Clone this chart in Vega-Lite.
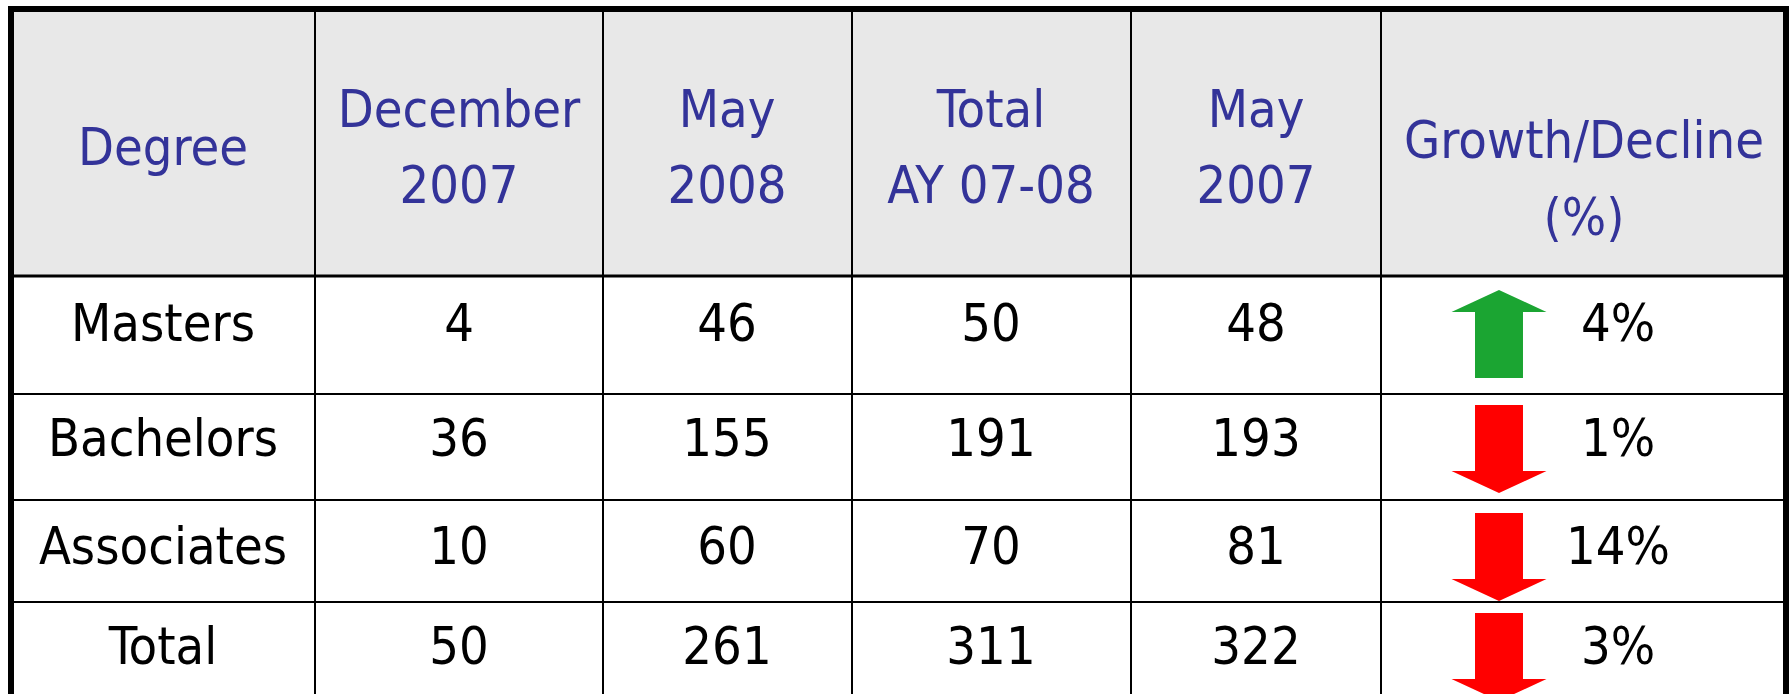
{
  "$schema": "https://vega.github.io/schema/vega-lite/v6.json",
  "width": 1775,
  "height": 691,
  "autosize": {"type": "none"},
  "padding": {"left": 11, "top": 9, "right": 5, "bottom": 0},
  "background": "white",
  "config": {
    "view": {"stroke": null},
    "text": {"font": "Tahoma, 'DejaVu Sans Condensed', 'DejaVu Sans', sans-serif", "fontSize": 52},
    "rule": {"color": "#000000", "strokeWidth": 2}
  },
  "data": {
    "values": [
      {"row": 0, "col": 0, "label": "Degree"},
      {"row": 0, "col": 1, "label": "December\n2007"},
      {"row": 0, "col": 2, "label": "May\n2008"},
      {"row": 0, "col": 3, "label": "Total\nAY 07-08"},
      {"row": 0, "col": 4, "label": "May\n2007"},
      {"row": 0, "col": 5, "label": "Growth/Decline\n(%)"},
      {"row": 1, "col": 0, "label": "Masters"},
      {"row": 1, "col": 1, "label": "4"},
      {"row": 1, "col": 2, "label": "46"},
      {"row": 1, "col": 3, "label": "50"},
      {"row": 1, "col": 4, "label": "48"},
      {"row": 1, "col": 5, "label": "4%", "dir": "up"},
      {"row": 2, "col": 0, "label": "Bachelors"},
      {"row": 2, "col": 1, "label": "36"},
      {"row": 2, "col": 2, "label": "155"},
      {"row": 2, "col": 3, "label": "191"},
      {"row": 2, "col": 4, "label": "193"},
      {"row": 2, "col": 5, "label": "1%", "dir": "down"},
      {"row": 3, "col": 0, "label": "Associates"},
      {"row": 3, "col": 1, "label": "10"},
      {"row": 3, "col": 2, "label": "60"},
      {"row": 3, "col": 3, "label": "70"},
      {"row": 3, "col": 4, "label": "81"},
      {"row": 3, "col": 5, "label": "14%", "dir": "down"},
      {"row": 4, "col": 0, "label": "Total"},
      {"row": 4, "col": 1, "label": "50"},
      {"row": 4, "col": 2, "label": "261"},
      {"row": 4, "col": 3, "label": "311"},
      {"row": 4, "col": 4, "label": "322"},
      {"row": 4, "col": 5, "label": "3%", "dir": "down"}
    ]
  },
  "layer": [
    {
      "transform": [{"filter": "datum.row == 0 && datum.col == 0"}],
      "mark": {"type": "rect", "fill": "#E8E8E8"},
      "encoding": {
        "x": {"datum": -0.5, "type": "quantitative",
              "scale": {"domain": [-0.5, 0, 0.5, 1, 1.5, 2, 2.5, 3, 3.5, 4, 4.5, 5, 5.5],
                        "range": [0, 152, 304, 448, 592, 716, 841, 980, 1120, 1245, 1370, 1573, 1775],
                        "nice": false, "zero": false}, "axis": null},
        "x2": {"datum": 5.5},
        "y": {"datum": -0.5, "type": "quantitative",
              "scale": {"domain": [-0.5, 0, 0.5, 1, 1.5, 2, 2.5, 3, 3.5, 4, 4.5],
                        "range": [0, 140, 267, 332, 385, 447, 491, 555, 593, 655, 691],
                        "nice": false, "zero": false}, "axis": null},
        "y2": {"datum": 0.5}
      }
    },
    {"transform": [{"filter": "datum.row == 0 && datum.col == 0"}], "mark": {"type": "rule"}, "encoding": {"x": {"datum": 0.5, "type": "quantitative", "axis": null}}},
    {"transform": [{"filter": "datum.row == 0 && datum.col == 0"}], "mark": {"type": "rule"}, "encoding": {"x": {"datum": 1.5, "type": "quantitative", "axis": null}}},
    {"transform": [{"filter": "datum.row == 0 && datum.col == 0"}], "mark": {"type": "rule"}, "encoding": {"x": {"datum": 2.5, "type": "quantitative", "axis": null}}},
    {"transform": [{"filter": "datum.row == 0 && datum.col == 0"}], "mark": {"type": "rule"}, "encoding": {"x": {"datum": 3.5, "type": "quantitative", "axis": null}}},
    {"transform": [{"filter": "datum.row == 0 && datum.col == 0"}], "mark": {"type": "rule"}, "encoding": {"x": {"datum": 4.5, "type": "quantitative", "axis": null}}},
    {"transform": [{"filter": "datum.row == 0 && datum.col == 0"}], "mark": {"type": "rule", "strokeWidth": 3}, "encoding": {"y": {"datum": 0.5, "type": "quantitative", "axis": null}}},
    {"transform": [{"filter": "datum.row == 0 && datum.col == 0"}], "mark": {"type": "rule"}, "encoding": {"y": {"datum": 1.5, "type": "quantitative", "axis": null}}},
    {"transform": [{"filter": "datum.row == 0 && datum.col == 0"}], "mark": {"type": "rule"}, "encoding": {"y": {"datum": 2.5, "type": "quantitative", "axis": null}}},
    {"transform": [{"filter": "datum.row == 0 && datum.col == 0"}], "mark": {"type": "rule"}, "encoding": {"y": {"datum": 3.5, "type": "quantitative", "axis": null}}},
    {"transform": [{"filter": "datum.row == 0 && datum.col == 0"}], "mark": {"type": "rule", "strokeWidth": 6, "strokeCap": "square"}, "encoding": {"x": {"datum": -0.5, "type": "quantitative", "axis": null}}},
    {"transform": [{"filter": "datum.row == 0 && datum.col == 0"}], "mark": {"type": "rule", "strokeWidth": 6, "strokeCap": "square"}, "encoding": {"x": {"datum": 5.5, "type": "quantitative", "axis": null}}},
    {"transform": [{"filter": "datum.row == 0 && datum.col == 0"}], "mark": {"type": "rule", "strokeWidth": 6, "strokeCap": "square"}, "encoding": {"y": {"datum": -0.5, "type": "quantitative", "axis": null}}},
    {
      "transform": [{"filter": "datum.row == 0 && datum.col == 0"}],
      "mark": {"type": "text", "align": "center", "baseline": "middle", "color": "#333399"},
      "encoding": {"x": {"field": "col", "type": "quantitative", "axis": null}, "y": {"field": "row", "type": "quantitative", "axis": null}, "text": {"field": "label"}}
    },
    {
      "transform": [{"filter": "datum.row == 0 && datum.col > 0 && datum.col < 5"}],
      "mark": {"type": "text", "align": "center", "baseline": "middle", "lineBreak": "\n", "lineHeight": 76, "dy": -38, "color": "#333399"},
      "encoding": {"x": {"field": "col", "type": "quantitative", "axis": null}, "y": {"field": "row", "type": "quantitative", "axis": null}, "text": {"field": "label"}}
    },
    {
      "transform": [{"filter": "datum.row == 0 && datum.col == 5"}],
      "mark": {"type": "text", "align": "center", "baseline": "middle", "lineBreak": "\n", "lineHeight": 77, "dy": -7, "color": "#333399"},
      "encoding": {"x": {"field": "col", "type": "quantitative", "axis": null}, "y": {"field": "row", "type": "quantitative", "axis": null}, "text": {"field": "label"}}
    },
    {
      "transform": [{"filter": "datum.row > 0 && datum.col < 5"}],
      "mark": {"type": "text", "align": "center", "baseline": "alphabetic", "color": "#000000"},
      "encoding": {"x": {"field": "col", "type": "quantitative", "axis": null}, "y": {"field": "row", "type": "quantitative", "axis": null}, "text": {"field": "label"}}
    },
    {
      "transform": [{"filter": "datum.row > 0 && datum.col == 5"}],
      "mark": {"type": "text", "align": "center", "baseline": "alphabetic", "color": "#000000", "dx": 34},
      "encoding": {"x": {"field": "col", "type": "quantitative", "axis": null}, "y": {"field": "row", "type": "quantitative", "axis": null}, "text": {"field": "label"}}
    },
    {
      "transform": [{"filter": "datum.row > 0 && datum.col == 5"}],
      "mark": {"type": "point", "filled": true, "opacity": 1, "size": 9025, "strokeWidth": 0, "xOffset": -85, "yOffset": -7},
      "encoding": {
        "x": {"field": "col", "type": "quantitative", "axis": null},
        "y": {"field": "row", "type": "quantitative", "axis": null},
        "shape": {"field": "dir", "type": "nominal", "legend": null,
                  "scale": {"domain": ["up", "down"],
                            "range": ["M0,-0.926L1,-0.463L0.505,-0.463L0.505,0.926L-0.505,0.926L-0.505,-0.463L-1,-0.463Z",
                                      "M0,0.926L1,0.463L0.505,0.463L0.505,-0.926L-0.505,-0.926L-0.505,0.463L-1,0.463Z"]}},
        "color": {"field": "dir", "type": "nominal", "legend": null,
                  "scale": {"domain": ["up", "down"], "range": ["#1BA532", "#FF0000"]}}
      }
    }
  ]
}
